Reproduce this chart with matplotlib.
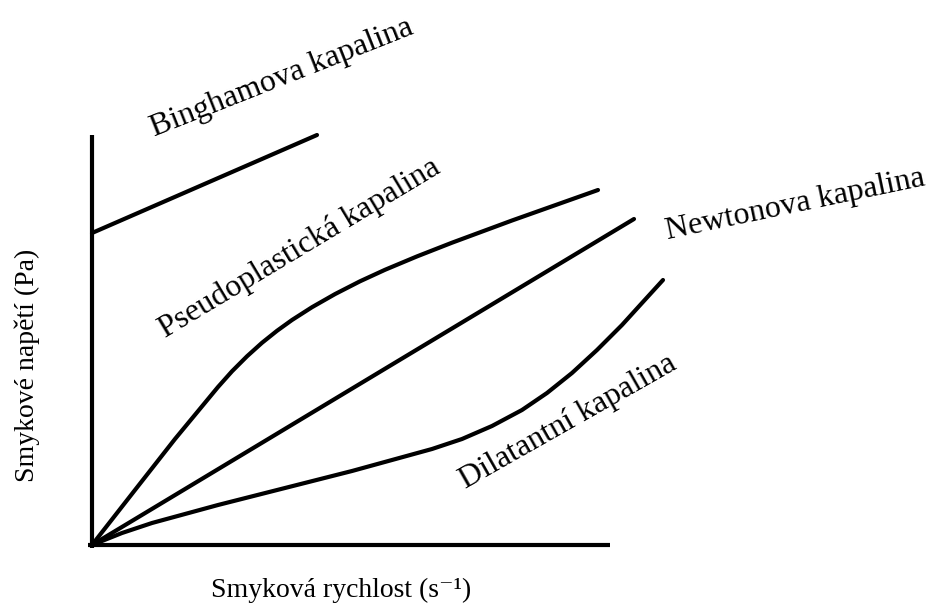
import numpy as np
import matplotlib
matplotlib.use('Agg')
import matplotlib.pyplot as plt

plt.rcParams['font.family'] = ['Liberation Serif', 'DejaVu Serif']

# curves, shear rate vs shear stress (arbitrary units)
bingham_x = [0, 225]
bingham_y = [312, 410]

newton_x = [0, 542]
newton_y = [0, 326]

pseudo_x = [0, 43, 83, 126, 140, 155, 170, 185, 200, 220, 243, 268, 293,
            325, 360, 420, 506]
pseudo_y = [0, 55, 106, 158, 173.7, 188.7, 202.2, 214.2, 225, 237.8, 250.9,
            263.7, 275.2, 288.6, 302.3, 324.5, 355]

dilat_x = [0, 30, 60, 126, 193, 260, 300, 340, 370, 400, 430, 455, 480,
           505, 530, 550, 571]
dilat_y = [0, 12, 22, 40, 57, 74, 85, 96, 106, 119, 135, 152, 172, 195,
           220, 242, 265]

labels = ['Binghamova kapalina', 'Pseudoplastická kapalina',
          'Newtonova kapalina', 'Dilatantní kapalina']
label_pos = [(190, 467), (208, 297), (703, 340), (476, 123)]
label_rot = [21.6, 31.0, 11.8, 29.6]

xlabel = 'Smyková rychlost (s⁻¹)'
ylabel = 'Smykové napětí (Pa)'

fig = plt.figure(figsize=(9.32, 6.08), dpi=100)
ax = fig.add_axes((0, 0, 1, 1))
ax.set_xlim(-92, 840)
ax.set_ylim(-63, 545)
ax.axis('off')

lw = 3.0
# axes drawn as plain lines
ax.plot([0, 0], [-3, 410], color='black', lw=lw, solid_capstyle='butt')
ax.plot([-4, 518], [0, 0], color='black', lw=lw, solid_capstyle='butt')

for xs, ys in [(bingham_x, bingham_y), (newton_x, newton_y),
               (pseudo_x, pseudo_y), (dilat_x, dilat_y)]:
    ax.plot(xs, ys, color='black', lw=lw, solid_capstyle='round',
            solid_joinstyle='round')

for txt, (x, y), rot in zip(labels, label_pos, label_rot):
    ax.text(x, y, txt, fontsize=23, rotation=rot, rotation_mode='anchor',
            ha='center', va='center')

ax.text(249, -45, xlabel, fontsize=20, ha='center', va='center')
ax.text(-65, 180, ylabel, fontsize=20, rotation=90, ha='center', va='center')

fig.savefig('out.png', dpi=100)
